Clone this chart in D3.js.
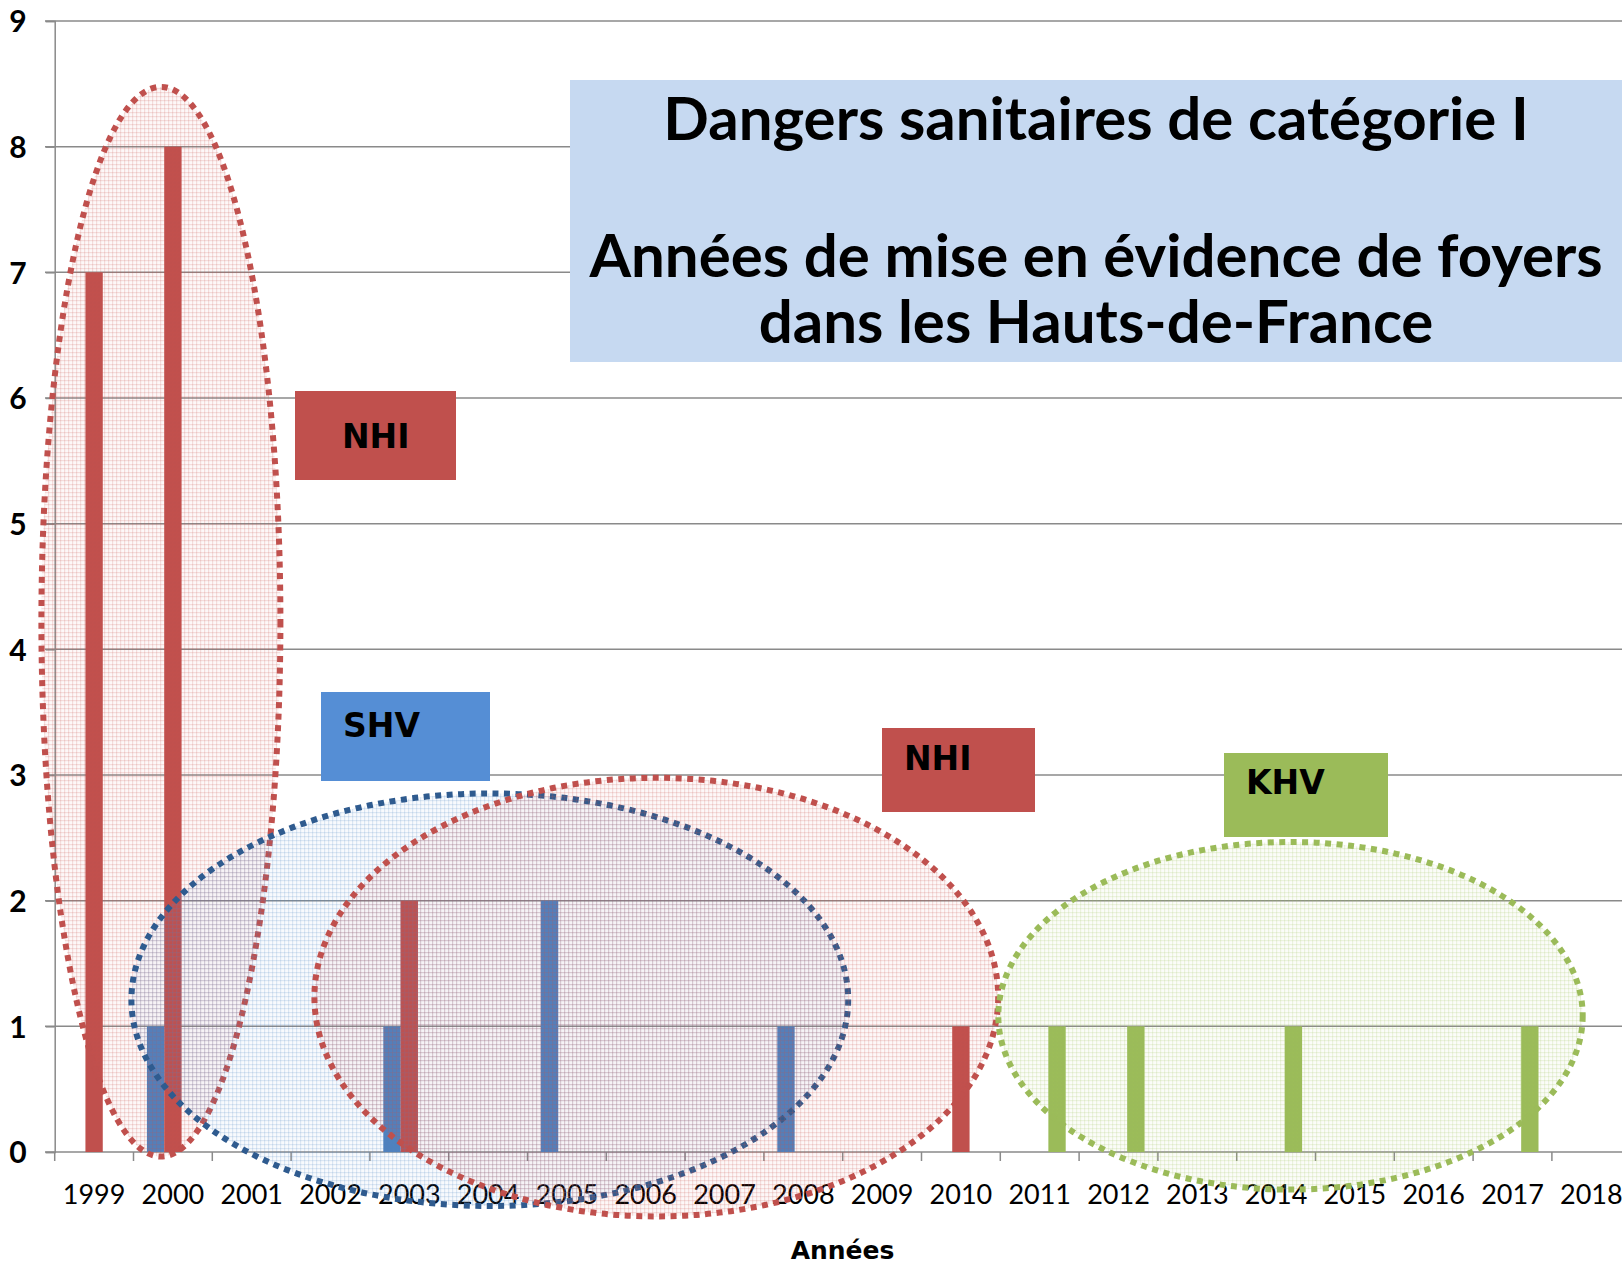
<!DOCTYPE html>
<html>
<head>
<meta charset="utf-8">
<script src="https://cdn.jsdelivr.net/npm/d3@7"></script>
<style>
  html, body { margin: 0; padding: 0; background: #fff; }
  svg { display: block; }
</style>
</head>
<body>
<svg id="chart" width="1622" height="1265"></svg>
<script>
// ---------- data ----------
const years = ["1999","2000","2001","2002","2003","2004","2005","2006","2007","2008",
               "2009","2010","2011","2012","2013","2014","2015","2016","2017","2018"];
const seriesNames = ["SHV","NHI","KHV"];
const shvValues = [0,1,0,0,1,0,2,0,0,1,0,0,0,0,0,0,0,0,0,0];
const nhiValues = [7,8,0,0,2,0,0,0,0,0,0,1,0,0,0,0,0,0,0,0];
const khvValues = [0,0,0,0,0,0,0,0,0,0,0,0,1,1,0,1,0,0,1,0];
const yTicks = [0,1,2,3,4,5,6,7,8,9];
const titleLines = ["Dangers sanitaires de catégorie I",
                    "Années de mise en évidence de foyers",
                    "dans les Hauts-de-France"];
const xAxisTitle = "Années";
const tagLabels = ["NHI","SHV","NHI","KHV"];

// ---------- layout ----------
const colors = { NHI: "#C0504D", SHV: "#4F81BD", KHV: "#9BBB59" };
const svg = d3.select("#chart");
const x0 = 54.7, bandW = 78.8;
const x = d3.scaleBand().domain(years).range([x0, x0 + years.length * bandW]).padding(0);
const xs = d3.scaleBand().domain(seriesNames)
  .range([x.bandwidth()/2 - 26, x.bandwidth()/2 + 26]).padding(0);
const y = d3.scaleLinear().domain([0, 9]).range([1152, 21]);

const seriesData = [
  { name: "SHV", values: shvValues },
  { name: "NHI", values: nhiValues },
  { name: "KHV", values: khvValues }
];

// patterns
const defs = svg.append("defs");
function makePattern(id, col) {
  const p = defs.append("pattern").attr("id", id)
    .attr("patternUnits", "userSpaceOnUse").attr("width", 4).attr("height", 4);
  p.append("rect").attr("width", 4).attr("height", 4).attr("fill", col).attr("opacity", 0.04);
  p.append("rect").attr("width", 4).attr("height", 1.2).attr("fill", col).attr("opacity", 0.17);
  p.append("rect").attr("width", 1.2).attr("height", 4).attr("fill", col).attr("opacity", 0.17);
}
makePattern("pRed", "#C0504D");
makePattern("pBlue", "#4F81BD");
makePattern("pGreen", "#9BBB59");

// gridlines
const gridG = svg.append("g");
gridG.selectAll("line").data(yTicks.filter(d => d > 0)).join("line")
  .attr("x1", 45).attr("x2", 1622)
  .attr("y1", d => y(d)).attr("y2", d => y(d))
  .attr("stroke", "#8a8a8a").attr("stroke-width", 1.5);

// y axis
const yAxis = d3.axisLeft(y).tickValues(yTicks).tickSize(9).tickPadding(10);
const yG = svg.append("g").attr("transform", `translate(${x0},0)`).call(yAxis);
yG.select(".domain").attr("stroke", "#8a8a8a").attr("stroke-width", 1.5);
yG.selectAll(".tick line").attr("stroke", "#8a8a8a").attr("stroke-width", 1.5);
yG.selectAll(".tick text")
  .attr("x", -28).attr("text-anchor", "end")
  .style("font-family", "Lato, 'Open Sans', sans-serif")
  .style("font-weight", "700").style("font-size", "30px").attr("fill", "#000")
  .attr("dy", "0.36em");

// x axis
const xAxis = d3.axisBottom(x).tickSize(0).tickPadding(0);
const xG = svg.append("g").attr("transform", `translate(0,${y(0)})`).call(xAxis);
xG.select(".domain").remove();
xG.append("line").attr("x1", 45).attr("x2", 1622).attr("y1", 0).attr("y2", 0)
  .attr("stroke", "#8a8a8a").attr("stroke-width", 1.5);
xG.selectAll(".bticks").data(years).join("line").attr("class", "bticks")
  .attr("x1", d => x(d)).attr("x2", d => x(d)).attr("y1", 0).attr("y2", 9)
  .attr("stroke", "#8a8a8a").attr("stroke-width", 1.5);
xG.selectAll(".tick text")
  .attr("y", 33)
  .style("font-family", "Lato, 'Open Sans', sans-serif")
  .style("font-size", "27px").attr("fill", "#000");

// bars
const barsG = svg.append("g");
seriesData.forEach(s => {
  barsG.append("g").selectAll("rect")
    .data(years.map((yr, i) => ({ yr, v: s.values[i] })).filter(d => d.v > 0))
    .join("rect")
    .attr("x", d => x(d.yr) + xs(s.name))
    .attr("width", xs.bandwidth())
    .attr("y", d => y(d.v))
    .attr("height", d => y(0) - y(d.v))
    .attr("fill", colors[s.name]);
});

// ellipses (annotation shapes)
const ellipses = [
  { cx: 160.9, cy: 621.7, rx: 119.5, ry: 534.8, fill: "url(#pRed)", stroke: "#C0504D" },
  { cx: 489.8, cy: 999.7, rx: 358.4, ry: 206.3, fill: "url(#pBlue)", stroke: "#2F5B8F" },
  { cx: 656.3, cy: 997.1, rx: 341.9, ry: 219.3, fill: "url(#pRed)", stroke: "#C0504D" },
  { cx: 1290.5, cy: 1015.8, rx: 292.2, ry: 173.8, fill: "url(#pGreen)", stroke: "#9BBB59" }
];
svg.append("g").selectAll("ellipse").data(ellipses).join("ellipse")
  .attr("cx", d => d.cx).attr("cy", d => d.cy)
  .attr("rx", d => d.rx).attr("ry", d => d.ry)
  .attr("fill", d => d.fill)
  .attr("stroke", d => d.stroke).attr("stroke-width", 6)
  .attr("stroke-dasharray", "6 5.5");

// tag boxes
const tags = [
  { label: tagLabels[0], x: 295, y: 391, w: 161, h: 89, fill: "#C0504D", tx: 342, ty: 448 },
  { label: tagLabels[1], x: 321, y: 692, w: 169, h: 89, fill: "#558ED5", tx: 343, ty: 737 },
  { label: tagLabels[2], x: 882, y: 728, w: 153, h: 84, fill: "#C0504D", tx: 904, ty: 770 },
  { label: tagLabels[3], x: 1224, y: 753, w: 164, h: 84, fill: "#9BBB59", tx: 1246, ty: 794 }
];
const tagG = svg.append("g").selectAll("g").data(tags).join("g");
tagG.append("rect").attr("x", d => d.x).attr("y", d => d.y)
  .attr("width", d => d.w).attr("height", d => d.h).attr("fill", d => d.fill);
tagG.append("text").attr("x", d => d.tx).attr("y", d => d.ty)
  .style("font-family", "'DejaVu Sans', Verdana, sans-serif")
  .style("font-weight", "700").style("font-size", "33px").attr("fill", "#000")
  .text(d => d.label);

// title box
svg.append("rect").attr("x", 570).attr("y", 80).attr("width", 1052).attr("height", 282)
  .attr("fill", "#C6D9F1");
const titleBase = [139.5, 277, 342.5];
const titleW = [891, 1033, 681];
svg.append("g").selectAll("text").data(titleLines).join("text")
  .attr("x", 1096).attr("y", (d, i) => titleBase[i])
  .attr("text-anchor", "middle")
  .style("font-family", "Lato, 'Open Sans', sans-serif")
  .style("font-weight", "700").style("font-size", "56px").attr("fill", "#000")
  .text(d => d)
  .each(function(d, i) {
    const w = this.getComputedTextLength();
    const fs = 56 * titleW[i] / w;
    d3.select(this).style("font-size", Math.min(fs, 60) + "px");
  });

// x axis title
svg.append("text").attr("x", 842.5).attr("y", 1259).attr("text-anchor", "middle")
  .style("font-family", "'DejaVu Sans', Verdana, sans-serif")
  .style("font-weight", "700").style("font-size", "25px").attr("fill", "#000")
  .text(xAxisTitle);
</script>
</body>
</html>
